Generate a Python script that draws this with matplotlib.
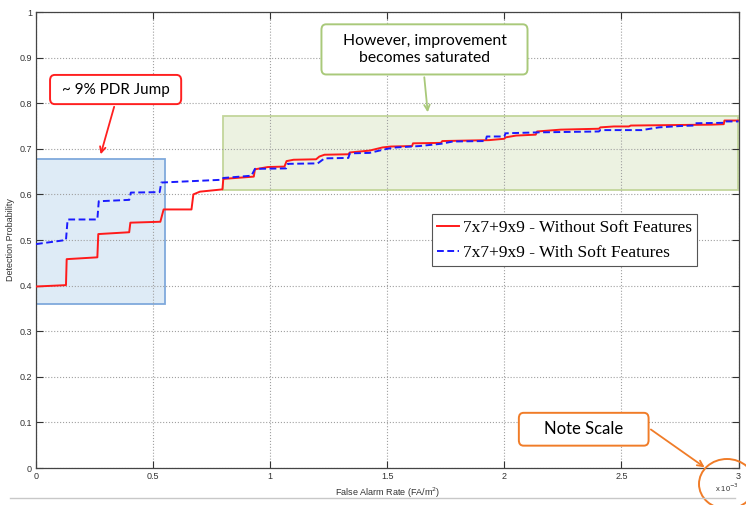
import numpy as np
import matplotlib
matplotlib.use("Agg")
import matplotlib.pyplot as plt
from matplotlib.patches import FancyBboxPatch, Rectangle, Ellipse
from matplotlib.lines import Line2D

# ROC curves, false alarm rate in units of 1e-3 FA/m^2
fa_no_soft = [0, 0.128, 0.131, 0.262, 0.266, 0.398, 0.403, 0.531, 0.545, 0.664,
              0.672, 0.70, 0.796, 0.80, 0.930, 0.935, 0.99, 1.061, 1.07, 1.10,
              1.196, 1.21, 1.232, 1.334, 1.34, 1.424, 1.48, 1.516, 1.606, 1.61,
              1.729, 1.735, 1.935, 2.0, 2.005, 2.05, 2.134, 2.14, 2.24, 2.32,
              2.404, 2.41, 2.468, 2.532, 2.54, 2.886, 2.937, 2.94, 3.0]
pd_no_soft = [0.398, 0.401, 0.458, 0.462, 0.513, 0.517, 0.538, 0.540, 0.567, 0.567,
              0.600, 0.606, 0.611, 0.634, 0.639, 0.655, 0.660, 0.661, 0.673, 0.676,
              0.677, 0.683, 0.687, 0.688, 0.692, 0.696, 0.703, 0.705, 0.706, 0.712,
              0.713, 0.717, 0.719, 0.722, 0.725, 0.729, 0.731, 0.738, 0.742, 0.743,
              0.744, 0.747, 0.749, 0.749, 0.751, 0.753, 0.754, 0.762, 0.762]

fa_soft = [0, 0.128, 0.135, 0.262, 0.268, 0.398, 0.405, 0.528, 0.535, 0.79,
           0.80, 0.92, 0.935, 1.068, 1.075, 1.203, 1.232, 1.334, 1.34, 1.424,
           1.50, 1.537, 1.637, 1.73, 1.78, 1.92, 1.925, 2.0, 2.005, 2.14,
           2.404, 2.41, 2.587, 2.66, 2.752, 2.809, 2.815, 2.937, 2.94, 3.0]
pd_soft = [0.491, 0.500, 0.545, 0.545, 0.585, 0.588, 0.604, 0.605, 0.626, 0.632,
           0.636, 0.641, 0.656, 0.657, 0.667, 0.668, 0.679, 0.680, 0.690, 0.691,
           0.700, 0.703, 0.706, 0.711, 0.716, 0.717, 0.727, 0.727, 0.734, 0.736,
           0.738, 0.741, 0.741, 0.747, 0.750, 0.751, 0.756, 0.757, 0.760, 0.760]

series_labels = ["7x7+9x9 - Without Soft Features", "7x7+9x9 - With Soft Features"]
x_ticks = [0, 0.5, 1, 1.5, 2, 2.5, 3]
x_tick_labels = ["0", "0.5", "1", "1.5", "2", "2.5", "3"]
y_ticks = np.round(np.arange(0, 1.01, 0.1), 1)
y_tick_labels = ["0", "0.1", "0.2", "0.3", "0.4", "0.5", "0.6", "0.7", "0.8", "0.9", "1"]

plt.rcParams['font.family'] = ['Liberation Sans', 'DejaVu Sans']

fig = plt.figure(figsize=(7.46, 5.05), dpi=100)
ax = fig.add_axes([36/746, 37/505, 702.5/746, 456/505])

# highlighted regions
ax.add_patch(Rectangle((0, 0.36), 0.549, 0.318, facecolor='#5b9bd5', alpha=0.2,
                       edgecolor='none', zorder=1))
ax.add_patch(Rectangle((0, 0.36), 0.549, 0.318, facecolor='none',
                       edgecolor='#7fa9dc', lw=1.3, zorder=1.5))
ax.add_patch(Rectangle((0.799, 0.609), 2.2, 0.164, facecolor='#9bbb59', alpha=0.18,
                       edgecolor='none', zorder=1))
ax.add_patch(Rectangle((0.799, 0.609), 2.2, 0.164, facecolor='none',
                       edgecolor='#c3d69b', lw=1.3, zorder=1.5))

ax.plot(fa_no_soft, pd_no_soft, '-', c='#ff1a1a', lw=1.4, label=series_labels[0], zorder=3)
ax.plot(fa_soft, pd_soft, '--', c='#1a1aff', lw=1.4, dashes=(3.5, 1.8),
        label=series_labels[1], zorder=3)

ax.set_xlim(0, 3)
ax.set_ylim(0, 1)
ax.set_xticks(x_ticks)
ax.set_xticklabels(x_tick_labels)
ax.set_yticks(y_ticks)
ax.set_yticklabels(y_tick_labels)
ax.tick_params(direction='in', length=5, width=0.8, top=True, right=True,
               labelsize=6.5, colors='#333333', pad=3)
ax.grid(True, ls=':', c='#a0a0a0', lw=0.8)
for s in ax.spines.values():
    s.set_color('#444444')
    s.set_linewidth(0.9)

ax.set_xlabel("False Alarm Rate (FA/m$^2$)", fontsize=6.5, color='#333333', labelpad=3)
ax.set_ylabel("Detection Probability", fontsize=6.5, color='#333333')
ax.yaxis.set_label_coords(-0.03, 0.5)
ax.text(2.95, -0.03, r"x 10$^{-3}$", fontsize=5.5, color='#333333',
        ha='center', va='top')

leg = ax.legend(loc='upper left', bbox_to_anchor=(0.563, 0.556), borderaxespad=0,
                prop={'family': 'Liberation Serif', 'size': 12.5}, fancybox=False,
                handlelength=1.3, handletextpad=0.2, borderpad=0.3, labelspacing=0.5,
                framealpha=1)
leg.get_frame().set_edgecolor('#555555')
leg.get_frame().set_linewidth(0.8)

# callouts
callout_font = ['Lato', 'DejaVu Sans']

def callout(x0, y0, w, h, color, text, size):
    ax.add_patch(FancyBboxPatch((x0, y0), w, h, boxstyle="round,pad=0,rounding_size=0.02",
                                mutation_aspect=0.6, facecolor='white', edgecolor=color,
                                lw=1.4, zorder=5, clip_on=False))
    ax.text(x0 + w/2, y0 + h/2, text, ha='center', va='center', fontsize=size,
            family=callout_font, color='black', zorder=6, linespacing=1.3)

callout(0.06, 0.798, 0.56, 0.064, '#ff2020', "~ 9% PDR Jump", 11)
ax.annotate("", xy=(0.273, 0.682), xytext=(0.337, 0.798),
            arrowprops=dict(arrowstyle='->', color='#ff2020', lw=1.3), zorder=5)

callout(1.219, 0.863, 0.88, 0.11, '#a9c97a', "However, improvement\nbecomes saturated", 11.3)
ax.annotate("", xy=(1.674, 0.774), xytext=(1.657, 0.863),
            arrowprops=dict(arrowstyle='->', color='#a9c97a', lw=1.3), zorder=5)

callout(2.062, 0.049, 0.554, 0.072, '#f07c28', "Note Scale", 12)
ax.annotate("", xy=(2.865, -0.002), xytext=(2.616, 0.088),
            arrowprops=dict(arrowstyle='->', color='#f07c28', lw=1.3),
            zorder=5, annotation_clip=False)

fig.add_artist(Ellipse((727/746, 1 - 484/505), 56/746, 50/505, transform=fig.transFigure,
                       facecolor='none', edgecolor='#f07c28', lw=1.4))
fig.add_artist(Line2D([10/746, 735/746], [1 - 498/505, 1 - 498/505],
                      transform=fig.transFigure, color='#c8c8c8', lw=1))

fig.savefig("out.png", dpi=100)
